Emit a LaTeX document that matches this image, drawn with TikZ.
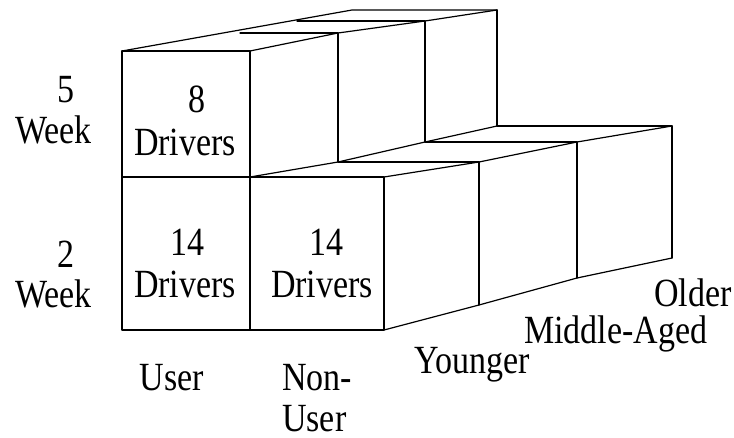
\documentclass[tikz,border=0pt]{standalone}
\usepackage{fontspec}
\setmainfont{Liberation Serif}[FakeStretch=0.85]
\begin{document}
\begin{tikzpicture}[x=1pt,y=-1pt,
  edge/.style={line width=1.2pt,line join=round,line cap=round},
  lbl/.style={inner sep=0pt,font=\fontsize{40}{43}\selectfont}]
\useasboundingbox[fill=white] (0,0) rectangle (734,437);

% ---- corner points ----
% upper block (5 week, user column)
\coordinate (uFL) at (122,51);
\coordinate (uFR) at (250,51);
\coordinate (uBL) at (352,10);
\coordinate (uBR) at (497,10);
\coordinate (uT1) at (338,33);
\coordinate (uT2) at (425,21);
\coordinate (uD1) at (240,33);
\coordinate (uD2) at (297,21);
\coordinate (uB0) at (250,177);
\coordinate (uB1) at (338,162);
\coordinate (uB2) at (425,142);
\coordinate (uB3) at (497,126);
% lower block (2 week, both columns)
\coordinate (lTL) at (122,177);
\coordinate (lTR) at (384,177);
\coordinate (lBL) at (122,330);
\coordinate (lBM) at (250,330);
\coordinate (lBR) at (384,330);
\coordinate (lT1) at (479,162);
\coordinate (lT2) at (577,142);
\coordinate (lT3) at (672,126);
\coordinate (lR1) at (479,305);
\coordinate (lR2) at (577,278);
\coordinate (lR3) at (672,258);

% ---- upper block ----
\draw[edge] (uFL) -- (uFR) -- (uB0);
\draw[edge] (uFL) -- (uBL) -- (uBR);
\draw[edge] (uD1) -- (uT1);
\draw[edge] (uD2) -- (uT2);
\draw[edge] (uFR) -- (uT1) -- (uT2) -- (uBR);
\draw[edge] (uT1) -- (uB1);
\draw[edge] (uT2) -- (uB2);
\draw[edge] (uBR) -- (uB3);
\draw[edge] (uB0) -- (uB1) -- (uB2) -- (uB3);

% ---- lower block ----
\draw[edge] (uFL) -- (lBL) -- (lBR) -- (lTR) -- (lTL);
\draw[edge] (uB0) -- (lBM);
\draw[edge] (uB1) -- (lT1);
\draw[edge] (uB2) -- (lT2);
\draw[edge] (uB3) -- (lT3);
\draw[edge] (lTR) -- (lT1) -- (lT2) -- (lT3);
\draw[edge] (lT1) -- (lR1);
\draw[edge] (lT2) -- (lR2);
\draw[edge] (lT3) -- (lR3);
\draw[edge] (lBR) -- (lR1) -- (lR2) -- (lR3);

% ---- row labels ----
\node[lbl,anchor=base] (row5n) at (66,102) {5};
\node[lbl,anchor=base] (row5w) at (53.5,143) {Week};
\node[lbl,anchor=base] (row2n) at (66,267) {2};
\node[lbl,anchor=base] (row2w) at (53.5,307) {Week};

% ---- cell counts ----
\node[lbl,anchor=base] (c8n) at (196.5,112) {8};
\node[lbl,anchor=base] (c8d) at (185,155) {Drivers};
\node[lbl,anchor=base] (cAn) at (187.5,255) {14};
\node[lbl,anchor=base] (cAd) at (185,297) {Drivers};
\node[lbl,anchor=base] (cBn) at (326,255) {14};
\node[lbl,anchor=base] (cBd) at (322,297) {Drivers};

% ---- column labels ----
\node[lbl,anchor=base] (colU) at (172,390) {User};
\node[lbl,anchor=base west] (colN1) at (282,390) {Non-};
\node[lbl,anchor=base west] (colN2) at (282,431) {User};

% ---- age labels ----
\node[lbl,anchor=base west] (ageY) at (414,373) {Younger};
\node[lbl,anchor=base west] (ageM) at (524,343) {Middle-Aged};
\node[lbl,anchor=base west] (ageO) at (654,306) {Older};
\end{tikzpicture}
\end{document}
